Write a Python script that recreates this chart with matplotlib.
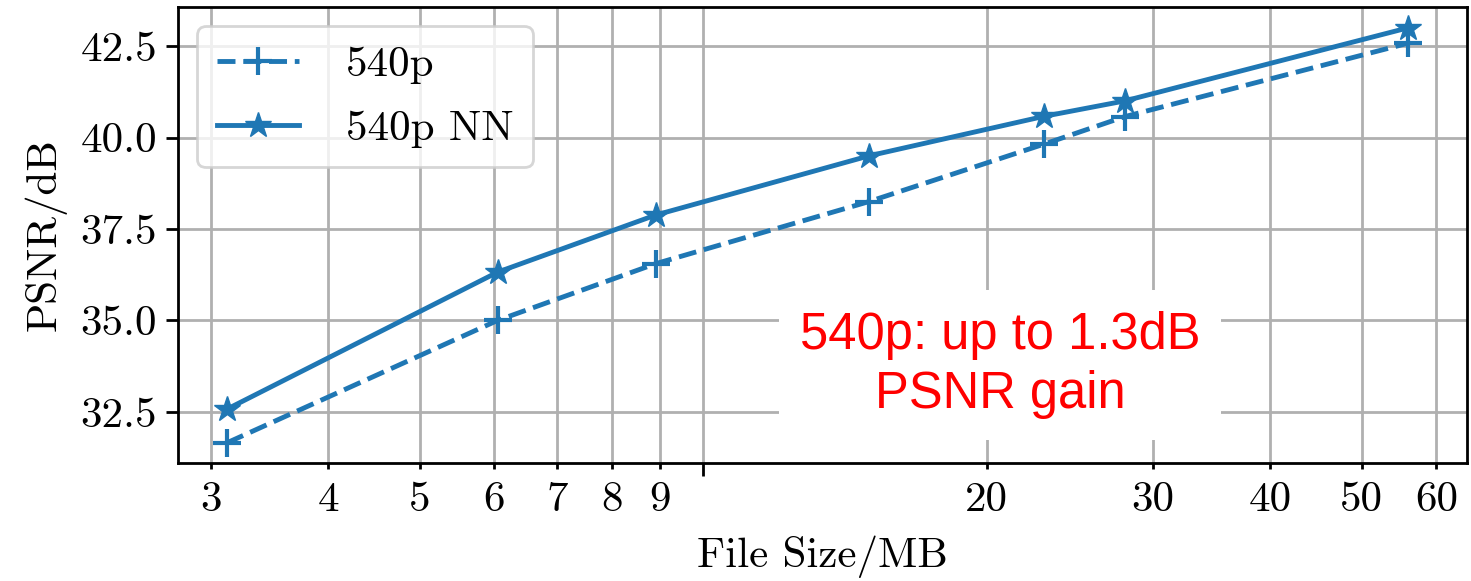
import matplotlib
matplotlib.use("Agg")
from matplotlib import pyplot as plt
from matplotlib.ticker import FixedLocator, NullFormatter, FixedFormatter

plt.rcParams["font.family"] = "serif"
plt.rcParams["font.serif"] = ["cmr10"]
plt.rcParams["mathtext.fontset"] = "cm"
plt.rcParams["axes.formatter.use_mathtext"] = True

SIZES_540P = [3.12, 6.05, 8.9, 15.0, 23.0, 28.0, 56.0]
PSNR_540P = [31.65, 35.0, 36.55, 38.25, 39.82, 40.57, 42.58]
PSNR_540P_NN = [32.57, 36.32, 37.88, 39.5, 40.58, 41.0, 43.0]

MINOR_TICKS = [3, 4, 5, 6, 7, 8, 9, 20, 30, 40, 50, 60]
MINOR_LABELS = [str(t) for t in MINOR_TICKS]
Y_TICKS = [32.5, 35.0, 37.5, 40.0, 42.5]

blue = "#1f77b4"

fig = plt.figure(figsize=(14.71, 5.81), dpi=100)
ax = fig.add_axes([0.121, 0.203, 0.876, 0.785])

ax.plot(SIZES_540P, PSNR_540P, "--+", color=blue, lw=3.5, ms=20, mew=3,
        label="540p")
ax.plot(SIZES_540P, PSNR_540P_NN, "-*", color=blue, lw=3.5, ms=19,
        label="540p NN")

ax.set_xscale("log")
ax.set_xlim(2.77, 64.6)
ax.set_ylim(31.1, 43.57)

ax.xaxis.set_major_locator(FixedLocator([10]))
ax.xaxis.set_major_formatter(NullFormatter())
ax.xaxis.set_minor_locator(FixedLocator(MINOR_TICKS))
ax.xaxis.set_minor_formatter(FixedFormatter(MINOR_LABELS))
ax.set_yticks(Y_TICKS)
ax.set_yticklabels(["%.1f" % v for v in Y_TICKS])

ax.tick_params(axis="both", which="both", labelsize=31, width=2)
ax.tick_params(axis="both", which="major", length=9)
ax.tick_params(axis="x", which="minor", length=4, pad=9)
ax.tick_params(axis="y", which="major", pad=6)
for s in ax.spines.values():
    s.set_linewidth(2)

ax.grid(True, which="both", color="#b0b0b0", lw=2)
ax.set_axisbelow(True)

ax.set_xlabel("File Size/MB", fontsize=31, labelpad=12)
ax.set_ylabel("PSNR/dB", fontsize=31, labelpad=10)

leg = ax.legend(loc="upper left", fontsize=31, handlelength=1.9,
                borderpad=0.45, labelspacing=0.6, handletextpad=1.1,
                framealpha=0.8, borderaxespad=0.45)
leg.get_frame().set_linewidth(2)

ax.text(0.638, 0.215, "540p: up to 1.3dB\nPSNR gain", transform=ax.transAxes,
        ha="center", va="center", fontsize=36.5, color="red",
        family="Liberation Sans", linespacing=1.28,
        bbox=dict(facecolor="white", edgecolor="none", pad=15))

fig.savefig("out.png", dpi=100)
